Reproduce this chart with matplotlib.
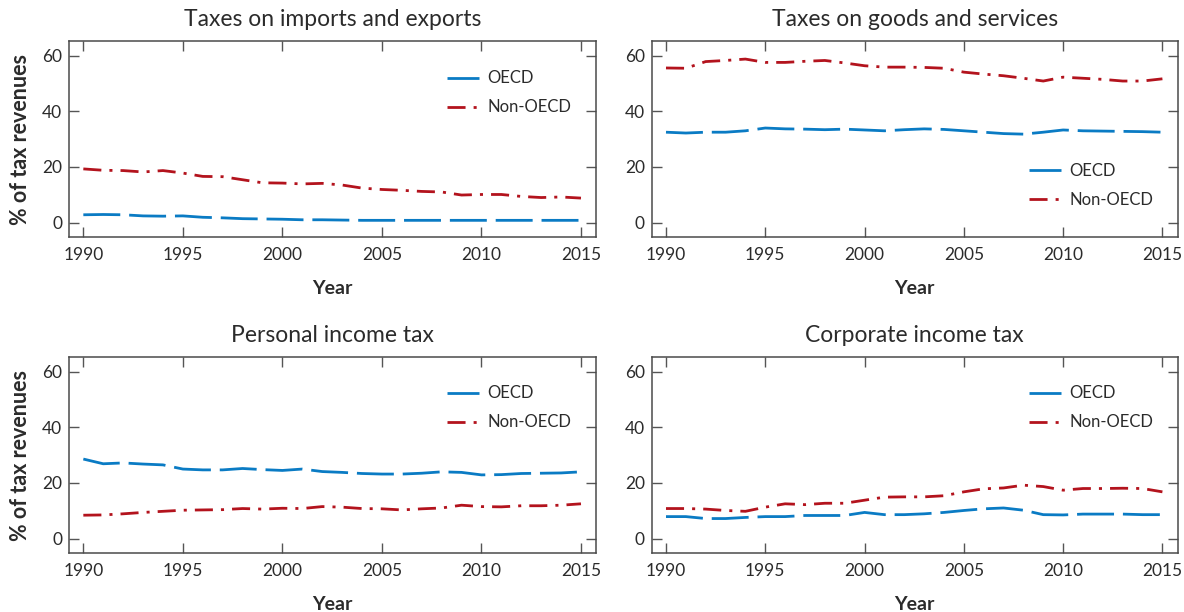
import numpy as np
import matplotlib
matplotlib.use("Agg")
import matplotlib.pyplot as plt

plt.rcParams['font.family'] = ['Lato', 'DejaVu Sans']

years = np.arange(1990, 2016)

# Taxes on imports and exports
imp_oecd = [2.8, 2.9, 2.8, 2.4, 2.3, 2.4, 1.9, 1.7, 1.4, 1.3, 1.2, 1.0, 1.0,
            0.9, 0.8, 0.8, 0.8, 0.8, 0.8, 0.8, 0.8, 0.8, 0.8, 0.8, 0.8, 0.8]
imp_non = [19.3, 18.8, 18.7, 18.2, 18.7, 17.8, 16.6, 16.5, 15.4, 14.3, 14.2, 13.9, 14.1,
           13.5, 12.4, 11.9, 11.6, 11.2, 11.0, 9.9, 10.1, 10.1, 9.4, 9.0, 9.2, 8.8]

# Taxes on goods and services
goods_oecd = [32.5, 32.2, 32.5, 32.5, 33.0, 34.0, 33.7, 33.6, 33.4, 33.6, 33.3, 33.0, 33.4,
              33.7, 33.5, 33.0, 32.5, 32.0, 31.8, 32.5, 33.3, 33.0, 32.9, 32.8, 32.7, 32.5]
goods_non = [55.6, 55.5, 57.9, 58.3, 58.8, 57.6, 57.6, 58.0, 58.3, 57.4, 56.4, 55.9, 55.9,
             55.8, 55.5, 54.1, 53.4, 52.8, 51.9, 50.9, 52.3, 51.9, 51.5, 50.9, 50.9, 51.7]

# Personal income tax
pit_oecd = [28.6, 26.9, 27.2, 26.8, 26.5, 25.0, 24.7, 24.7, 25.2, 24.8, 24.5, 25.0, 24.1,
            23.8, 23.4, 23.2, 23.2, 23.5, 24.0, 23.8, 22.9, 23.0, 23.4, 23.5, 23.6, 24.0]
pit_non = [8.4, 8.5, 8.9, 9.4, 9.8, 10.2, 10.3, 10.4, 10.8, 10.6, 10.9, 10.8, 11.5,
           11.3, 10.8, 10.7, 10.3, 10.7, 11.0, 12.0, 11.5, 11.4, 11.8, 11.8, 12.0, 12.5]

# Corporate income tax
cit_oecd = [7.9, 7.9, 7.2, 7.2, 7.6, 7.9, 7.9, 8.3, 8.3, 8.3, 9.4, 8.6, 8.6,
            8.9, 9.4, 10.1, 10.7, 11.0, 10.2, 8.6, 8.5, 8.8, 8.8, 8.8, 8.6, 8.6]
cit_non = [10.8, 10.8, 10.6, 10.1, 9.8, 11.3, 12.5, 12.2, 12.7, 12.7, 13.8, 14.9, 15.0,
           15.0, 15.4, 16.8, 17.9, 18.2, 19.2, 18.7, 17.4, 18.0, 18.0, 18.1, 18.0, 16.8]

titles = ["Taxes on imports and exports", "Taxes on goods and services",
          "Personal income tax", "Corporate income tax"]
series = [(imp_oecd, imp_non), (goods_oecd, goods_non),
          (pit_oecd, pit_non), (cit_oecd, cit_non)]

blue = "#0a7bc4"
red = "#b3131d"
spine_c = "#4a4a4a"
text_c = "#2b2b2b"

fig = plt.figure(figsize=(11.84, 6.12), dpi=100)
W, H = 1184, 612
# axes boxes in pixels: left, top, right, bottom
boxes = [(69, 41, 596.3, 237.3), (651.7, 41, 1177.7, 237.3),
         (69, 357, 596.3, 553.3), (651.7, 357, 1177.7, 553.3)]
# legend anchor (upper-left) in axes fraction
leg_pos = [(0.717, 0.85), (0.717, 0.38), (0.717, 0.855), (0.717, 0.855)]

for i, (box, title, (oecd, non)) in enumerate(zip(boxes, titles, series)):
    l, t, r, b = box
    ax = fig.add_axes([l / W, 1 - b / H, (r - l) / W, (b - t) / H])
    ax.plot(years, oecd, color=blue, lw=2.0, dashes=(13.3, 3.2), label="OECD")
    ax.plot(years, non, color=red, lw=2.0, dashes=(6.5, 2.9, 1.1, 2.9), label="Non-OECD")
    ax.set_xlim(1989.28, 2015.77)
    ax.set_ylim(-5.3, 65.3)
    ax.set_xticks(range(1990, 2016, 5))
    ax.set_yticks(range(0, 61, 20))
    ax.tick_params(direction="in", length=7, width=1.0, color="#555555",
                   top=True, right=True, labelsize=12.5, labelcolor=text_c)
    ax.tick_params(axis="x", pad=7)
    ax.tick_params(axis="y", pad=5)
    for sp in ax.spines.values():
        sp.set_color(spine_c)
        sp.set_linewidth(1.1)
    ax.set_title(title, fontsize=16.5, color=text_c, pad=11)
    ax.set_xlabel("Year", fontsize=14, fontweight="bold", color=text_c, labelpad=12)
    if i % 2 == 0:
        ax.set_ylabel("% of tax revenues", fontsize=15.5, fontweight="bold",
                      color=text_c, labelpad=8)
    leg = ax.legend(loc="upper left", bbox_to_anchor=leg_pos[i], frameon=False,
                    fontsize=12, handlelength=1.92, handletextpad=0.5,
                    labelspacing=0.78, borderpad=0, borderaxespad=0)
    for txt in leg.get_texts():
        txt.set_color(text_c)

fig.savefig("out.png", dpi=100)
